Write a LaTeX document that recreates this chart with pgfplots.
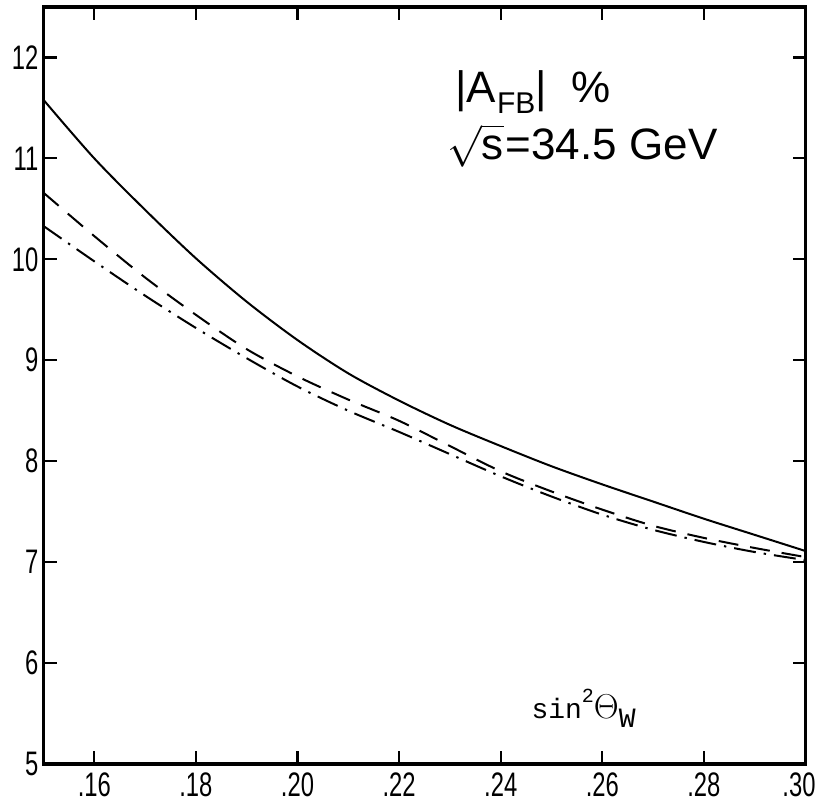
\documentclass[border=0pt]{standalone}
\usepackage{pgfplots}
\pgfplotsset{compat=1.18}
\usepackage{fontspec}
\setmainfont{Liberation Sans}
\newfontfamily\condfont[FakeStretch=0.7]{Liberation Sans}
\newfontfamily\monofont{Liberation Mono}
\begin{document}
\begin{tikzpicture}
\begin{axis}[
  width=381pt, height=378.5pt, scale only axis,
  xmin=0.15, xmax=0.30, ymin=5, ymax=12.5,
  xtick={0.16,0.18,0.20,0.22,0.24,0.26,0.28,0.30},
  xticklabels={.16,.18,.20,.22,.24,.26,.28,{\hbox to 0pt{\hss.30\kern-5pt}}},
  ytick={5,6,7,8,9,10,11,12},
  tick align=inside,
  xtick pos=both, xticklabel pos=lower,
  ytick pos=both, yticklabel pos=left,
  major tick length=6.5pt,
  axis line style={line width=1.6pt},
  every tick/.style={line width=1.1pt, black},
  ticklabel style={font=\condfont\fontsize{17}{17}\selectfont},
  /pgf/number format/assume math mode=true,
  xticklabel style={yshift=-1pt},
  yticklabel style={xshift=1pt},
]
\addplot[black, line width=1pt, smooth] coordinates {
(0.15,11.58) (0.16,11.00) (0.17,10.49) (0.18,10.01) (0.19,9.58) (0.20,9.20)
(0.21,8.87) (0.22,8.60) (0.23,8.36) (0.24,8.15) (0.25,7.95) (0.26,7.77)
(0.27,7.60) (0.28,7.43) (0.29,7.27) (0.30,7.11)};
\addplot[black, line width=1pt, smooth, dash pattern=on 10pt off 6pt] coordinates {
(0.15,10.66) (0.16,10.23) (0.17,9.82) (0.18,9.45) (0.19,9.11) (0.20,8.84)
(0.21,8.61) (0.22,8.40) (0.23,8.15) (0.24,7.90) (0.25,7.70) (0.26,7.52)
(0.27,7.36) (0.28,7.24) (0.29,7.14) (0.30,7.05)};
\addplot[black, line width=1pt, smooth, dash pattern=on 11pt off 4pt on 1.2pt off 4pt] coordinates {
(0.15,10.33) (0.16,9.98) (0.17,9.64) (0.18,9.32) (0.19,9.02) (0.20,8.74)
(0.21,8.50) (0.22,8.29) (0.23,8.07) (0.24,7.85) (0.25,7.65) (0.26,7.47)
(0.27,7.32) (0.28,7.20) (0.29,7.10) (0.30,7.02)};
\node[anchor=base west, inner sep=0pt, font=\fontsize{22}{22}\selectfont] at (axis cs:0.2310,11.55)
  {|A\kern0.5pt\raisebox{-0.45ex}{\fontsize{15}{15}\selectfont FB}| \ \%};
\node[anchor=base west, inner sep=0pt, font=\fontsize{22}{22}\selectfont] at (axis cs:0.2294,10.99)
  {$\sqrt{\hbox{s}}$\kern1pt=34.5 GeV};
\node[anchor=base west, inner sep=0pt, font=\monofont\fontsize{14}{14}\selectfont] at (axis cs:0.2460,5.45)
  {sin\raisebox{1.1ex}{\fontsize{10}{10}\selectfont 2}{\fontsize{18}{18}\selectfont $\Theta$}\raisebox{-0.6ex}{W}};
\end{axis}
\pgfresetboundingbox
\path ([shift={(-21.75pt,-20pt)}]current axis.south west) rectangle ([shift={(6.25pt,3.5pt)}]current axis.north east);
\end{tikzpicture}
\end{document}
